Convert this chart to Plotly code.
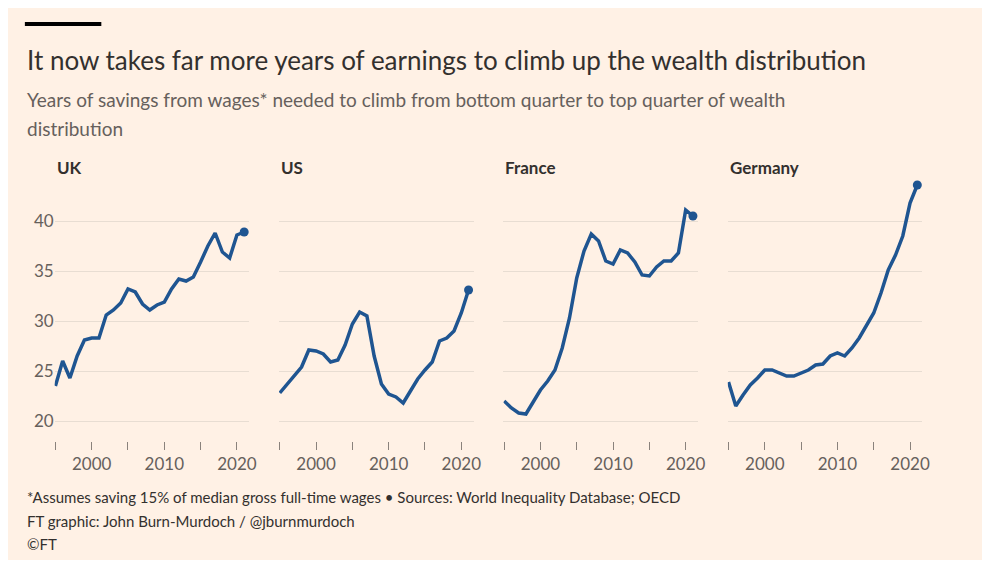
import plotly.graph_objects as go

years = list(range(1995, 2022))

uk = [23.5, 26.0, 24.3, 26.5, 28.1, 28.3, 28.3, 30.6, 31.1, 31.8, 33.2, 32.9, 31.7, 31.1,
      31.6, 31.9, 33.2, 34.2, 34.0, 34.4, 35.9, 37.5, 38.8, 36.9, 36.3, 38.6, 38.9]
us = [22.8, 23.7, 24.5, 25.4, 27.1, 27.0, 26.7, 25.9, 26.1, 27.6, 29.7, 30.9, 30.5, 26.5,
      23.7, 22.7, 22.4, 21.8, 23.0, 24.2, 25.1, 25.9, 28.0, 28.3, 29.0, 30.8, 33.1]
france = [22.0, 21.3, 20.8, 20.7, 21.9, 23.1, 24.0, 25.1, 27.3, 30.3, 34.3, 37.0, 38.7, 38.0,
          36.0, 35.7, 37.1, 36.8, 35.9, 34.6, 34.5, 35.4, 36.0, 36.0, 36.8, 41.1, 40.5]
germany = [23.9, 21.5, 22.6, 23.6, 24.3, 25.1, 25.1, 24.8, 24.5, 24.5, 24.8, 25.1, 25.6, 25.7,
           26.5, 26.8, 26.5, 27.3, 28.3, 29.5, 30.8, 32.8, 35.1, 36.6, 38.5, 41.8, 43.6]

countries = ["UK", "US", "France", "Germany"]
series = [uk, us, france, germany]

# page has an 8px body margin, so the figure is a bit smaller than the window
OFF = 8
W, H = 990 - 2 * OFF, 568 - 2 * OFF
BG = "#fff1e5"
LINE = "#1f5591"
GRID = "#e8ddd2"


def px(x):
    return (x - OFF) / W


def py(y):
    return 1 - (y - OFF) / H


# panel left/right edges in window pixels
panels = [(55, 251), (281, 477), (507, 703), (733, 929)]

fig = go.Figure()
for i, (name, vals) in enumerate(zip(countries, series)):
    n = i + 1
    fig.add_trace(go.Scatter(x=years, y=vals, mode="lines", line=dict(color=LINE, width=3.5),
                             xaxis=f"x{n}", yaxis=f"y{n}", showlegend=False, hoverinfo="x+y"))
    fig.add_trace(go.Scatter(x=[years[-1]], y=[vals[-1]], mode="markers",
                             marker=dict(color=LINE, size=9),
                             xaxis=f"x{n}", yaxis=f"y{n}", showlegend=False))
    l, r = panels[i]
    sfx = "" if n == 1 else str(n)
    fig.layout[f"xaxis{sfx}"] = dict(
        domain=[px(l), px(r)], range=[1994.9, 2021.7], showgrid=False, zeroline=False,
        tickvals=[1995, 2000, 2005, 2010, 2015, 2020],
        ticktext=["", "2000", "", "2010", "", "2020"],
        ticks="outside", ticklen=8, tickcolor="#8a827c", tickwidth=1,
        tickfont=dict(size=17, color="#66605c"), anchor=f"y{sfx}", fixedrange=True)
    fig.layout[f"yaxis{sfx}"] = dict(
        domain=[py(441), py(171)], range=[18, 45], tickvals=[20, 25, 30, 35, 40],
        showgrid=True, gridcolor=GRID, zeroline=False, showticklabels=(n == 1),
        tickfont=dict(size=17, color="#66605c"), anchor=f"x{sfx}", fixedrange=True)
    fig.add_annotation(text=f"<b>{name}</b>", x=px(l), y=py(168), xref="paper", yref="paper",
                       showarrow=False, xanchor="left", yanchor="middle",
                       font=dict(size=17, color="#33302e", family="Lato"))

fig.add_shape(type="rect", xref="paper", yref="paper", x0=px(25), x1=px(102),
              y0=py(26), y1=py(22), fillcolor="#000000", line_width=0)

texts = [
    ("It now takes far more years of earnings to climb up the wealth distribution", 60, 26, "#33302e"),
    ("Years of savings from wages* needed to climb from bottom quarter to top quarter of wealth", 100, 19, "#66605c"),
    ("distribution", 129, 19, "#66605c"),
    ("*Assumes saving 15% of median gross full-time wages • Sources: World Inequality Database; OECD", 497, 15, "#33302e"),
    ("FT graphic: John Burn-Murdoch / @jburnmurdoch", 521, 15, "#33302e"),
    ("©FT", 544, 15, "#33302e"),
]
for t, y, s, c in texts:
    fig.add_annotation(text=t, x=px(25), y=py(y), xref="paper", yref="paper",
                       showarrow=False, xanchor="left", yanchor="middle",
                       font=dict(size=s, color=c, family="Lato"))

fig.update_layout(width=W, height=H, paper_bgcolor=BG, plot_bgcolor=BG,
                  margin=dict(l=0, r=0, t=0, b=0), font=dict(family="Lato"))

fig.write_html("out.html")
